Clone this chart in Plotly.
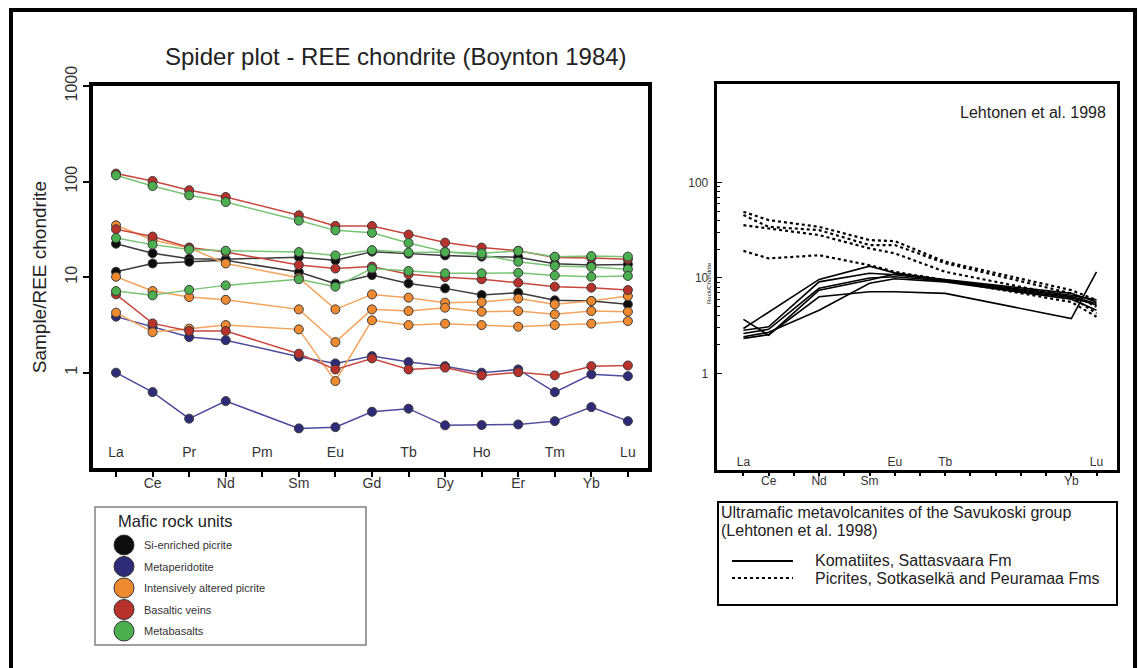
import plotly.graph_objects as go

W, H = 1141, 668

# ---------------- data ----------------
ELEMENTS = ["La", "Ce", "Pr", "Nd", "Pm", "Sm", "Eu", "Gd", "Tb", "Dy", "Ho", "Er", "Tm", "Yb", "Lu"]
LEFT_ELEMENTS = ["La", "Ce", "Pr", "Nd", "Sm", "Eu", "Gd", "Tb", "Dy", "Ho", "Er", "Tm", "Yb", "Lu"]
RIGHT_ELEMENTS = ["La", "Ce", "Nd", "Sm", "Eu", "Tb", "Yb", "Lu"]
LEFT_Y_TICKS = [0.1, 1, 10, 100, 1000]
LEFT_Y_TICKTEXT = ["0,1", "1", "10", "100", "1000"]
RIGHT_Y_TICKS = [1, 10, 100]
RIGHT_Y_MINOR = [2, 3, 4, 5, 6, 7, 8, 9, 20, 30, 40, 50, 60, 70, 80, 90]

si_enriched_1 = [22.4, 17.8, 15.6, 15.4, 16.2, 15.0, 18.5, 17.6, 16.9, 16.4, 16.2, 13.8, 13.4, 13.6]
si_enriched_2 = [11.4, 13.9, 14.5, 15.0, 11.3, 8.55, 10.5, 8.6, 7.63, 6.5, 6.88, 5.72, 5.62, 5.19]
metaperidotite_1 = [3.86, 3.0, 2.36, 2.19, 1.47, 1.25, 1.49, 1.29, 1.17, 1.0, 1.08, 0.626, 0.96, 0.92]
metaperidotite_2 = [1.0, 0.626, 0.33, 0.504, 0.261, 0.269, 0.39, 0.42, 0.281, 0.283, 0.287, 0.311, 0.436, 0.311]
altered_1 = [34.9, 24.5, 20.3, 13.9, 9.88, 4.6, 6.6, 6.1, 5.41, 5.49, 5.96, 5.19, 5.62, 6.34]
altered_2 = [10.1, 7.15, 6.19, 5.79, 4.6, 2.09, 4.6, 4.42, 4.79, 4.35, 4.42, 4.08, 4.42, 4.35]
altered_3 = [4.25, 2.66, 2.89, 3.15, 2.84, 0.817, 3.53, 3.15, 3.26, 3.15, 3.03, 3.15, 3.26, 3.47]
basaltic_1 = [121.3, 101.5, 81.1, 69.0, 44.4, 34.4, 34.3, 27.9, 23.0, 20.4, 18.9, 16.1, 15.9, 15.4]
basaltic_2 = [31.7, 26.6, 20.4, 18.3, 13.4, 12.3, 12.9, 10.7, 10.0, 9.5, 8.76, 7.95, 7.76, 7.33]
basaltic_3 = [6.6, 3.28, 2.73, 2.73, 1.58, 1.08, 1.41, 1.08, 1.13, 0.937, 1.01, 0.937, 1.17, 1.19]
metabasalt_1 = [116.4, 89.9, 71.9, 61.2, 39.1, 30.9, 29.1, 22.8, 18.4, 17.1, 14.5, 13.1, 12.8, 12.1]
metabasalt_2 = [25.7, 21.9, 19.5, 18.9, 18.3, 16.9, 19.2, 18.1, 18.3, 17.8, 18.8, 16.4, 16.6, 16.4]
metabasalt_3 = [7.15, 6.45, 7.36, 8.2, 9.5, 7.95, 12.3, 11.6, 10.96, 10.96, 11.1, 10.4, 10.1, 10.3]

komatiite_1 = [3.68, 2.52, 7.45, 9.5, 11.0, 9.6, 6.9, 5.6]
komatiite_2 = [2.96, 4.42, 9.65, 13.3, 11.3, 9.5, 6.6, 5.9]
komatiite_3 = [2.84, 3.08, 9.1, 11.2, 10.8, 9.4, 6.4, 5.4]
komatiite_4 = [2.62, 2.9, 7.8, 10.0, 10.3, 9.3, 6.2, 5.2]
komatiite_5 = [2.42, 2.7, 4.6, 8.8, 9.8, 9.1, 6.0, 4.6]
komatiite_6 = [2.33, 2.55, 6.35, 7.16, 7.16, 6.9, 3.76, 11.6]
picrite_1 = [49.3, 40.3, 34.3, 24.9, 24.3, 14.8, 7.46, 5.86]
picrite_2 = [45.5, 34.3, 31.7, 22.1, 22.1, 14.3, 6.9, 4.99]
picrite_3 = [35.7, 33.0, 28.1, 20.4, 18.1, 11.6, 6.35, 4.25]
picrite_4 = [19.2, 16.0, 17.3, 13.6, 11.6, 9.5, 5.6, 3.92]

UNITS = ["Si-enriched picrite", "Metaperidotite", "Intensively altered picrite", "Basaltic veins", "Metabasalts"]
UNIT_SERIES = {
    "Si-enriched picrite": [si_enriched_1, si_enriched_2],
    "Metaperidotite": [metaperidotite_1, metaperidotite_2],
    "Intensively altered picrite": [altered_1, altered_2, altered_3],
    "Basaltic veins": [basaltic_1, basaltic_2, basaltic_3],
    "Metabasalts": [metabasalt_1, metabasalt_2, metabasalt_3],
}
KOMATIITES = [komatiite_1, komatiite_2, komatiite_3, komatiite_4, komatiite_5, komatiite_6]
PICRITES = [picrite_1, picrite_2, picrite_3, picrite_4]

# ---------------- styles ----------------
FONT = "Liberation Sans, Arial, Helvetica, sans-serif"
MARKER_COL = {
    "Si-enriched picrite": "#0d0d0d",
    "Metaperidotite": "#2e2b78",
    "Intensively altered picrite": "#f08a30",
    "Basaltic veins": "#b8312a",
    "Metabasalts": "#4caf4f",
}
LINE_COL = {
    "Si-enriched picrite": "#3a3a3a",
    "Metaperidotite": "#4d4a9c",
    "Intensively altered picrite": "#f4a35c",
    "Basaltic veins": "#c8473f",
    "Metabasalts": "#78c474",
}


def PX(x):
    return x / W


def PY(y):
    return 1 - y / H


left_x = [ELEMENTS.index(e) for e in LEFT_ELEMENTS]
right_x = [ELEMENTS.index(e) for e in RIGHT_ELEMENTS]

fig = go.Figure()

for unit in UNITS:
    for s in UNIT_SERIES[unit]:
        fig.add_trace(go.Scatter(
            x=left_x, y=s, mode="lines+markers", xaxis="x", yaxis="y",
            line=dict(color=LINE_COL[unit], width=1.5),
            marker=dict(size=9, color=MARKER_COL[unit], line=dict(color="#3a3a3a", width=1)),
            showlegend=False, hoverinfo="skip", name=unit,
        ))

for s in PICRITES:
    fig.add_trace(go.Scatter(
        x=right_x, y=s, mode="lines", xaxis="x2", yaxis="y2",
        line=dict(color="black", width=2.2, dash="dot"), showlegend=False, hoverinfo="skip",
    ))
for s in KOMATIITES:
    fig.add_trace(go.Scatter(
        x=right_x, y=s, mode="lines", xaxis="x2", yaxis="y2",
        line=dict(color="black", width=1.6), showlegend=False, hoverinfo="skip",
    ))

# empty traces so the overlay label axes exist
fig.add_trace(go.Scatter(x=[], y=[], xaxis="x3", yaxis="y", showlegend=False))
fig.add_trace(go.Scatter(x=[], y=[], xaxis="x4", yaxis="y2", showlegend=False))

left_range = [-0.63, 14.55]
right_range = [-1.06, 14.8]
idx = list(range(len(ELEMENTS)))
odd_text = [e if i % 2 == 1 else "" for i, e in enumerate(ELEMENTS)]
even_idx = [i for i in idx if i % 2 == 0]
right_out = ["Ce", "Nd", "Sm", "Yb"]
right_in = ["La", "Eu", "Tb", "Lu"]

axis_common = dict(showgrid=False, zeroline=False, linecolor="black", tickcolor="black", automargin=False)

fig.update_layout(
    width=W, height=H, margin=dict(l=0, r=0, t=0, b=0, pad=0, autoexpand=False),
    paper_bgcolor="white", plot_bgcolor="white",
    font=dict(family=FONT, color="#333333"),
    showlegend=False,
    xaxis=dict(
        domain=[PX(93), PX(648)], range=left_range, anchor="y",
        tickmode="array", tickvals=idx, ticktext=odd_text,
        ticks="outside", ticklen=5, tickwidth=1.5, ticklabelstandoff=-6,
        showline=True, linewidth=4, mirror=True,
        tickfont=dict(size=14, color="#333333"), **axis_common,
    ),
    xaxis3=dict(
        overlaying="x", anchor="y", side="bottom", range=left_range,
        tickmode="array", tickvals=even_idx, ticktext=[ELEMENTS[i] for i in even_idx],
        ticks="", ticklabelposition="inside", ticklabelstandoff=6,
        showline=False, tickfont=dict(size=14, color="#333333"), **axis_common,
    ),
    yaxis=dict(
        domain=[PY(468.3), PY(86)], type="log", range=[-1.001, 3.001], anchor="x",
        tickmode="array", tickvals=LEFT_Y_TICKS, ticktext=LEFT_Y_TICKTEXT, tickangle=-90,
        ticks="outside", ticklen=6, tickwidth=1.5,
        showline=True, linewidth=4, mirror=True,
        tickfont=dict(size=16, color="#333333"),
        title=dict(text="Sample/REE chondrite", font=dict(size=19, color="#222222"), standoff=12),
        **axis_common,
    ),
    xaxis2=dict(
        domain=[PX(716.7), PX(1116.7)], range=right_range, anchor="y2",
        tickmode="array", tickvals=idx, ticktext=[e if e in right_out else "" for e in ELEMENTS],
        ticks="outside", ticklen=3, tickwidth=1.5, ticklabelstandoff=-5,
        showline=True, linewidth=3, mirror=True,
        tickfont=dict(size=12, color="#333333"), **axis_common,
    ),
    xaxis4=dict(
        overlaying="x2", anchor="y2", side="bottom", range=right_range,
        tickmode="array", tickvals=[ELEMENTS.index(e) for e in right_in], ticktext=right_in,
        ticks="", ticklabelposition="inside", ticklabelstandoff=-1,
        showline=False, tickfont=dict(size=12, color="#333333"), **axis_common,
    ),
    yaxis2=dict(
        domain=[PY(470), PY(84)], type="log", range=[-1.01, 3.03], anchor="x2",
        tickmode="array", tickvals=RIGHT_Y_TICKS, ticktext=[str(v) for v in RIGHT_Y_TICKS],
        ticks="inside", ticklen=5, tickwidth=1.2, ticklabelstandoff=3,
        minor=dict(tickmode="array", tickvals=RIGHT_Y_MINOR, ticks="inside", ticklen=3, tickcolor="black", tickwidth=1),
        showline=True, linewidth=3, mirror=True,
        tickfont=dict(size=12, color="#333333"), **axis_common,
    ),
)

shapes = []
annotations = []

# outer frame
shapes.append(dict(type="rect", xref="paper", yref="paper", x0=PX(11), x1=PX(1135), y0=PY(10), y1=PY(700),
                   line=dict(color="black", width=4), fillcolor="rgba(0,0,0,0)", layer="above"))

# title
annotations.append(dict(text="Spider plot - REE chondrite (Boynton 1984)", xref="paper", yref="paper",
                        x=PX(396), y=PY(56), xanchor="center", yanchor="middle", showarrow=False,
                        font=dict(size=24, color="#222222", family=FONT)))

# right panel texts
annotations.append(dict(text="Lehtonen et al. 1998", xref="paper", yref="paper", x=PX(1108), y=PY(113),
                        xanchor="right", yanchor="middle", showarrow=False,
                        font=dict(size=16, color="#222222", family=FONT)))
annotations.append(dict(text="Rock/Chondrite", xref="paper", yref="paper", x=PX(709), y=PY(283),
                        xanchor="center", yanchor="middle", showarrow=False, textangle=-90,
                        font=dict(size=6, color="#222222", family=FONT)))

# left legend
shapes.append(dict(type="rect", xref="paper", yref="paper", x0=PX(95), x1=PX(366), y0=PY(507), y1=PY(645),
                   line=dict(color="#808080", width=1.5), fillcolor="white"))
annotations.append(dict(text="Mafic rock units", xref="paper", yref="paper", x=PX(116), y=PY(521),
                        xanchor="left", yanchor="middle", showarrow=False,
                        font=dict(size=16.5, color="#222222", family=FONT)))
for i, unit in enumerate(UNITS):
    cy = 545 + 21.5 * i
    shapes.append(dict(type="circle", xref="paper", yref="paper", x0=PX(114), x1=PX(134),
                       y0=PY(cy + 10), y1=PY(cy - 10), fillcolor=MARKER_COL[unit],
                       line=dict(color="#333333", width=1)))
    annotations.append(dict(text=unit, xref="paper", yref="paper", x=PX(142), y=PY(cy),
                            xanchor="left", yanchor="middle", showarrow=False,
                            font=dict(size=11, color="#333333", family=FONT)))

# right legend
shapes.append(dict(type="rect", xref="paper", yref="paper", x0=PX(718), x1=PX(1117), y0=PY(502), y1=PY(605),
                   line=dict(color="black", width=2), fillcolor="white"))
annotations.append(dict(text="Ultramafic metavolcanites of the Savukoski group", xref="paper", yref="paper",
                        x=PX(719), y=PY(512), xanchor="left", yanchor="middle", showarrow=False,
                        font=dict(size=16, color="#222222", family=FONT)))
annotations.append(dict(text="(Lehtonen et al. 1998)", xref="paper", yref="paper",
                        x=PX(719), y=PY(530), xanchor="left", yanchor="middle", showarrow=False,
                        font=dict(size=16, color="#222222", family=FONT)))
shapes.append(dict(type="line", xref="paper", yref="paper", x0=PX(732), x1=PX(793), y0=PY(561), y1=PY(561),
                   line=dict(color="black", width=2)))
shapes.append(dict(type="line", xref="paper", yref="paper", x0=PX(732), x1=PX(793), y0=PY(578), y1=PY(578),
                   line=dict(color="black", width=2, dash="dot")))
annotations.append(dict(text="Komatiites, Sattasvaara Fm", xref="paper", yref="paper",
                        x=PX(813), y=PY(560), xanchor="left", yanchor="middle", showarrow=False,
                        font=dict(size=16, color="#222222", family=FONT)))
annotations.append(dict(text="Picrites, Sotkaselkä and Peuramaa Fms", xref="paper", yref="paper",
                        x=PX(813), y=PY(578), xanchor="left", yanchor="middle", showarrow=False,
                        font=dict(size=16, color="#222222", family=FONT)))

fig.update_layout(shapes=shapes, annotations=annotations)
fig.write_html("out.html", config={"displayModeBar": False},
               post_script="document.body.style.margin='0px';")
